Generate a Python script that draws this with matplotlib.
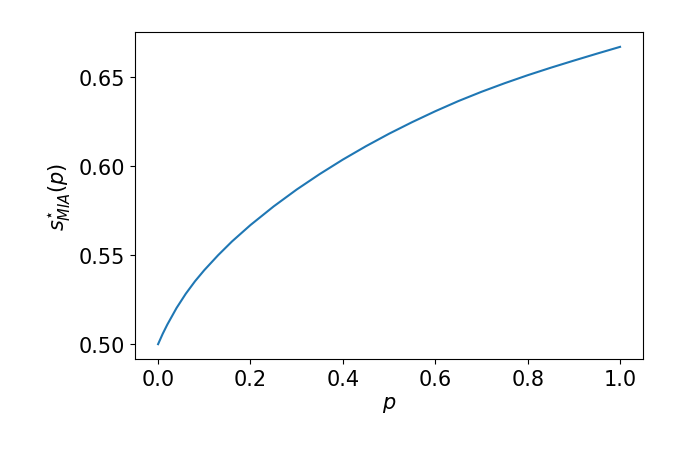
import numpy as np
import matplotlib
matplotlib.use('Agg')
import matplotlib.pyplot as plt

# значения
p = [0.0, 0.01, 0.02, 0.04, 0.06, 0.08, 0.1, 0.13, 0.16, 0.2, 0.25, 0.3, 0.35,
     0.4, 0.45, 0.5, 0.55, 0.6, 0.65, 0.7, 0.75, 0.8, 0.85, 0.9, 0.95, 1.0]
s_mia = [0.5, 0.5058, 0.5110, 0.5203, 0.5283, 0.5353, 0.5415, 0.5499, 0.5576, 0.5668,
         0.5772, 0.5867, 0.5954, 0.6035, 0.6110, 0.6180, 0.6245, 0.6306, 0.6363, 0.6415,
         0.6463, 0.6508, 0.6550, 0.6590, 0.6629, 0.6667]

fig = plt.figure(figsize=(6.77, 4.52), dpi=100)
ax = fig.add_axes([0.1994, 0.2035, 0.7506, 0.7235])
ax.plot(p, s_mia, color='#1f77b4', linewidth=1.5)
ax.set_xlabel(r'$p$', fontsize=15)
ax.set_ylabel(r'$s^{\star}_{MIA}(p)$', fontsize=15)
ax.set_xticks([0.0, 0.2, 0.4, 0.6, 0.8, 1.0])
ax.set_yticks([0.50, 0.55, 0.60, 0.65])
ax.tick_params(labelsize=15)
fig.savefig('out.png', dpi=100)
